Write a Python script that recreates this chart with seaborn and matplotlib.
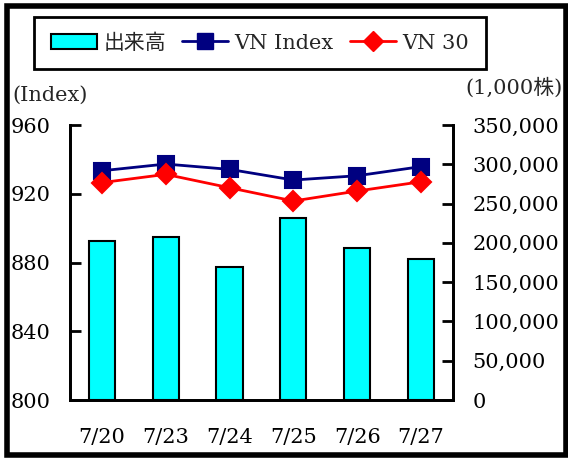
import matplotlib.pyplot as plt
import seaborn as sns
from matplotlib.patches import Patch, Rectangle
from matplotlib.lines import Line2D
from matplotlib.ticker import FuncFormatter

# values
dates = ["7/20", "7/23", "7/24", "7/25", "7/26", "7/27"]
volume = [203000, 208000, 169000, 232000, 194000, 179000]   # 1,000 shares
vn_index = [933.4, 937.3, 934.2, 928.0, 930.5, 935.8]
vn30 = [926.5, 931.3, 923.5, 915.8, 921.6, 927.0]

left_ticks = [800, 840, 880, 920, 960]
right_ticks = list(range(0, 350001, 50000))

sns.set_theme(style="white")
plt.rcParams["font.family"] = ["DejaVu Serif", "Noto Sans CJK JP"]

fig = plt.figure(figsize=(5.68, 4.58), dpi=100)
ax_bar = fig.add_axes([0.1232, 0.1266, 0.6743, 0.6004])

# volume bars on the right axis
sns.barplot(x=dates, y=volume, ax=ax_bar, color="#00FFFF", saturation=1,
            edgecolor="black", linewidth=1.5, width=0.41)
ax_bar.set_ylim(0, 350000)
ax_bar.set_yticks(right_ticks)
ax_bar.yaxis.set_major_formatter(FuncFormatter(lambda v, p: f"{int(v):,}"))

# index lines on the left axis
ax_line = ax_bar.twinx()
sns.pointplot(x=dates, y=vn_index, ax=ax_line, color="#000080", marker="s",
              markersize=11, linewidth=2, errorbar=None)
sns.pointplot(x=dates, y=vn30, ax=ax_line, color="#FF0000", marker="D",
              markersize=10, linewidth=2, errorbar=None)
ax_line.set_ylim(800, 960)
ax_line.set_yticks(left_ticks)

for a in (ax_bar, ax_line):
    a.set_xlim(-0.5, 5.5)
    a.set_xlabel("")
    a.set_ylabel("")
    a.grid(False)
    a.spines["top"].set_visible(False)
    for s in ("left", "right", "bottom"):
        a.spines[s].set_color("black")
        a.spines[s].set_linewidth(2)
    a.tick_params(axis="y", direction="in", length=8, width=2, pad=14,
                  labelsize=15, colors="black")
    a.tick_params(axis="x", length=0, pad=20, labelsize=15, colors="black")

# twinx moves the first axis to the left, so swap sides at the end
ax_bar.yaxis.tick_right()
ax_line.yaxis.tick_left()

fig.text(12 / 568, 1 - 95 / 458, "(Index)", ha="left", va="center", fontsize=15)
fig.text(563 / 568, 1 - 88 / 458, "(1,000株)", ha="right", va="center", fontsize=15)

handles = [
    Patch(facecolor="#00FFFF", edgecolor="black", linewidth=1.5),
    Line2D([], [], color="#000080", marker="s", markersize=11, linewidth=2),
    Line2D([], [], color="#FF0000", marker="D", markersize=10, linewidth=2),
]
leg = fig.legend(handles, ["出来高", "VN Index", "VN 30"], loc="center",
                 bbox_to_anchor=(0.458, 0.906), ncol=3, fontsize=15,
                 frameon=True, fancybox=False, edgecolor="black", framealpha=1,
                 handlelength=2.2, handletextpad=0.3, columnspacing=0.8,
                 borderpad=0.8)
leg.get_frame().set_linewidth(2)

fig.patches.append(Rectangle((0.012, 0.006), 0.985, 0.98, transform=fig.transFigure,
                             fill=False, edgecolor="black", linewidth=4))

fig.savefig("out.png", dpi=100)
